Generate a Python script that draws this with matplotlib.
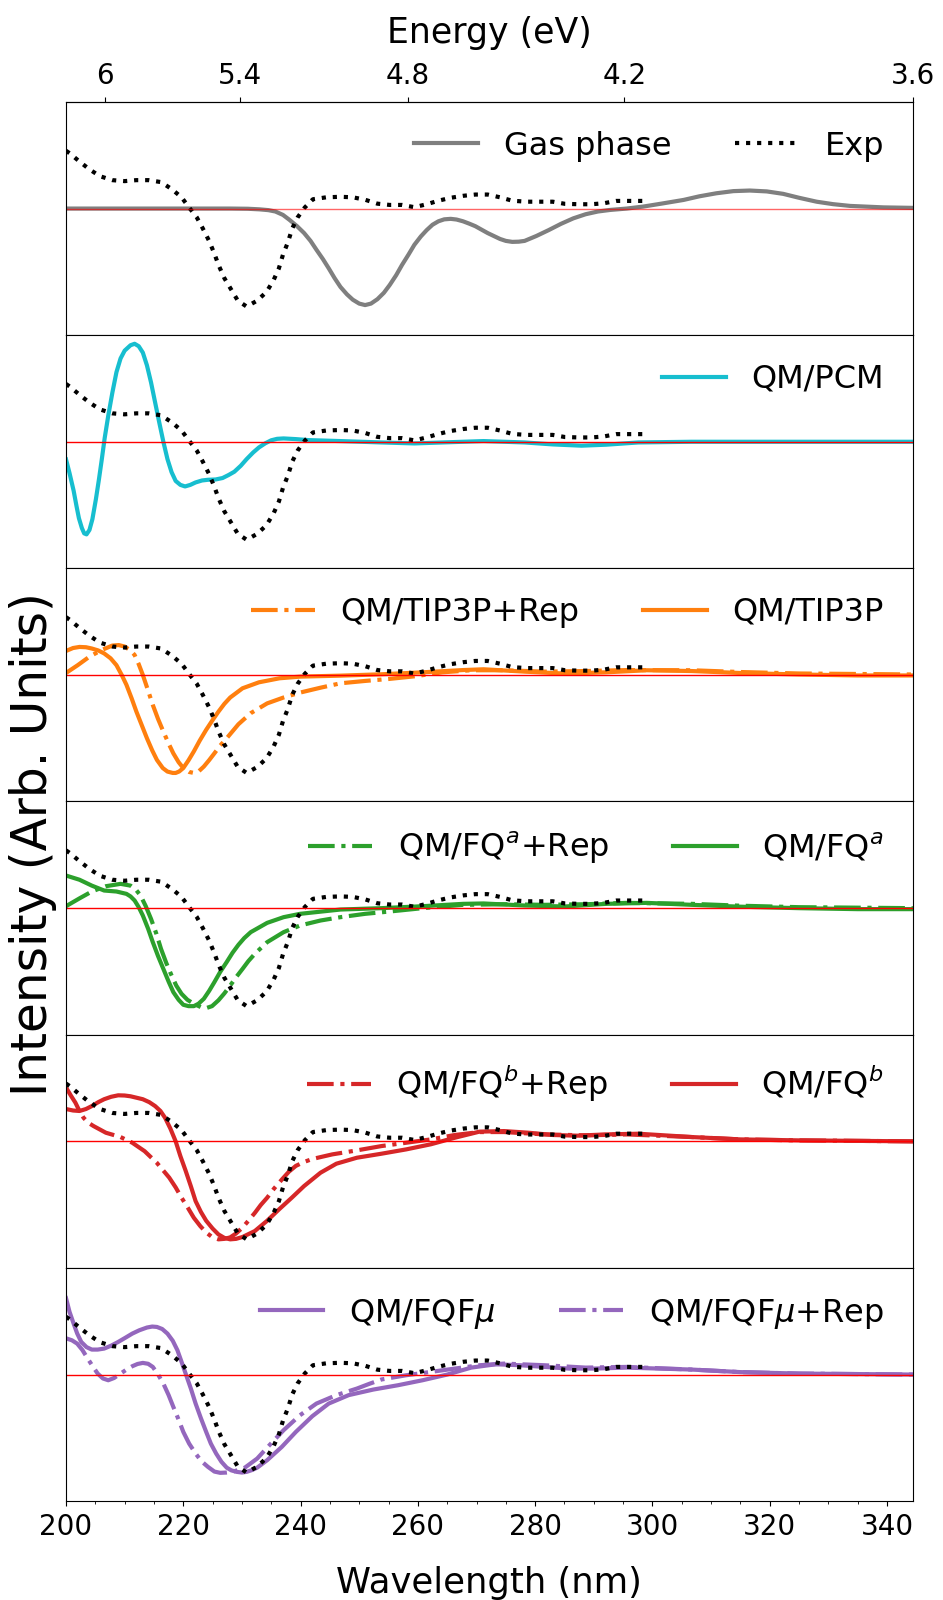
import numpy as np
import matplotlib
matplotlib.use('Agg')
import matplotlib.pyplot as plt
from matplotlib.ticker import MultipleLocator

HC = 1239.84  # eV*nm

# (wavelength nm, normalized intensity)
exp = [(200.0, 0.59), (200.6, 0.565), (202.3, 0.48), (204.0, 0.40), (205.8, 0.33), (207.9, 0.29),
       (210.0, 0.28), (212.0, 0.29), (214.1, 0.29), (216.2, 0.27), (218.0, 0.20), (219.7, 0.115),
       (221.0, 0.01), (222.3, -0.09), (223.3, -0.20), (224.4, -0.33), (225.3, -0.46), (226.0, -0.575),
       (227.0, -0.71), (228.2, -0.83), (229.3, -0.94), (230.8, -1.0), (232.6, -0.94), (234.2, -0.85),
       (235.4, -0.73), (236.3, -0.61), (237.0, -0.47), (237.8, -0.35), (238.6, -0.20), (239.5, -0.09),
       (240.7, 0.01), (242.1, 0.095), (244.4, 0.115), (246.8, 0.12), (248.9, 0.115), (251.0, 0.09),
       (253.1, 0.05), (255.2, 0.037), (257.3, 0.037), (259.4, 0.014), (261.5, 0.044), (263.5, 0.08),
       (265.6, 0.11), (267.7, 0.13), (269.8, 0.143), (271.9, 0.143), (274.0, 0.115), (276.1, 0.08),
       (278.5, 0.07), (281.0, 0.07), (283.0, 0.07), (285.1, 0.048), (287.6, 0.044), (289.6, 0.044),
       (291.7, 0.054), (293.8, 0.078), (296.3, 0.078), (298.8, 0.078)]

gas = [(200.0, 0.0), (210.0, 0.0), (220.0, 0.0), (228.0, 0.0), (231.0, -0.002), (233.0, -0.008),
       (234.5, -0.016), (235.7, -0.03), (237.0, -0.065), (238.1, -0.115), (239.4, -0.18), (240.6, -0.25),
       (241.7, -0.33), (242.7, -0.42), (243.8, -0.515), (244.8, -0.61), (245.8, -0.71), (246.8, -0.80),
       (247.9, -0.875), (248.9, -0.93), (250.0, -0.97), (251.0, -0.985), (252.0, -0.97), (253.1, -0.925),
       (254.2, -0.86), (255.2, -0.78), (256.3, -0.68), (257.3, -0.575), (258.4, -0.47), (259.4, -0.37),
       (260.5, -0.285), (261.5, -0.22), (262.5, -0.165), (263.5, -0.13), (264.5, -0.11), (265.6, -0.105),
       (266.6, -0.112), (267.7, -0.13), (268.8, -0.155), (269.8, -0.18), (271.9, -0.25), (274.0, -0.31),
       (275.0, -0.33), (276.1, -0.34), (277.2, -0.338), (278.2, -0.33), (280.2, -0.28), (282.3, -0.22),
       (284.4, -0.156), (286.5, -0.10), (288.6, -0.058), (290.7, -0.03), (292.8, -0.014), (295.6, 0.0),
       (298.4, 0.02), (301.5, 0.05), (305.3, 0.088), (308.0, 0.125), (310.9, 0.156), (313.8, 0.178),
       (316.6, 0.184), (319.5, 0.175), (322.3, 0.15), (325.0, 0.11), (328.0, 0.07), (330.8, 0.045),
       (333.7, 0.027), (339.4, 0.012), (344.4, 0.007)]

pcm = [(200.0, -0.18), (200.6, -0.32), (201.3, -0.50), (201.8, -0.66), (202.2, -0.78), (202.7, -0.88),
       (203.1, -0.935), (203.5, -0.945), (204.0, -0.90), (204.5, -0.79), (205.1, -0.585), (205.6, -0.39),
       (206.1, -0.18), (206.6, 0.04), (207.2, 0.265), (207.9, 0.50), (208.6, 0.71), (209.3, 0.85),
       (210.0, 0.93), (211.0, 0.985), (211.7, 1.0), (212.4, 0.975), (213.1, 0.91), (213.8, 0.78),
       (214.5, 0.605), (215.2, 0.40), (215.9, 0.197), (216.6, 0.0), (217.3, -0.177), (218.0, -0.31),
       (218.7, -0.40), (219.5, -0.44), (220.3, -0.456), (221.2, -0.44), (222.1, -0.415), (223.2, -0.395),
       (224.2, -0.388), (225.5, -0.385), (226.7, -0.37), (227.7, -0.34), (228.7, -0.306), (229.8, -0.245),
       (230.8, -0.177), (231.9, -0.11), (232.9, -0.058), (234.0, -0.015), (235.0, 0.015), (236.0, 0.03),
       (237.1, 0.034), (239.2, 0.027), (241.3, 0.017), (246.8, 0.007), (253.8, -0.007), (259.4, -0.017),
       (264.2, -0.007), (271.2, 0.007), (278.2, -0.007), (283.0, -0.027), (287.9, -0.04), (292.1, -0.03),
       (297.6, -0.007), (306.7, 0.0), (320.0, 0.0), (344.4, 0.0)]

tip3p = [(200.0, 0.245), (201.2, 0.275), (202.3, 0.286), (203.4, 0.283), (204.4, 0.27), (205.5, 0.25),
         (206.5, 0.22), (207.6, 0.17), (208.6, 0.10), (209.5, 0.0), (210.3, -0.10), (211.2, -0.24),
         (212.0, -0.374), (212.9, -0.51), (213.8, -0.646), (214.7, -0.77), (215.5, -0.867), (216.5, -0.95),
         (217.3, -0.986), (218.2, -1.0), (218.7, -1.0), (219.3, -0.985), (220.0, -0.95), (220.9, -0.87),
         (221.8, -0.78), (222.8, -0.67), (223.9, -0.56), (225.0, -0.46), (226.0, -0.374), (227.0, -0.295),
         (228.0, -0.23), (230.1, -0.136), (232.9, -0.075), (236.4, -0.034), (239.9, -0.017), (246.8, -0.007),
         (253.8, 0.007), (260.8, 0.027), (267.7, 0.05), (271.2, 0.058), (278.2, 0.034), (285.1, 0.014),
         (292.1, 0.027), (299.0, 0.048), (306.7, 0.04), (315.0, 0.02), (325.0, 0.005), (335.0, -0.005),
         (344.4, -0.005)]

tip3p_rep = [(200.0, 0.02), (202.0, 0.10), (204.0, 0.187), (206.1, 0.255), (207.9, 0.30), (209.0, 0.305),
             (210.0, 0.29), (211.0, 0.25), (211.7, 0.204), (212.4, 0.11), (213.1, 0.0), (214.0, -0.16),
             (214.8, -0.306), (215.7, -0.45), (216.6, -0.578), (217.5, -0.70), (218.3, -0.80), (219.2, -0.89),
             (220.0, -0.95), (221.0, -0.99), (221.8, -1.0), (222.6, -0.985), (223.5, -0.935), (224.4, -0.87),
             (225.3, -0.80), (226.3, -0.72), (227.4, -0.646), (229.4, -0.503), (231.5, -0.39), (234.3, -0.29),
             (237.1, -0.23), (239.9, -0.18), (243.4, -0.13), (246.8, -0.085), (251.0, -0.061), (255.2, -0.04),
             (259.4, -0.014), (264.2, 0.027), (269.1, 0.048), (274.7, 0.048), (281.6, 0.034), (288.6, 0.04),
             (295.6, 0.05), (306.7, 0.048), (315.0, 0.03), (325.0, 0.015), (335.0, 0.01), (344.4, 0.005)]

fqa = [(200.0, 0.333), (202.3, 0.29), (204.4, 0.23), (206.5, 0.18), (208.6, 0.17), (210.3, 0.146),
       (211.0, 0.12), (211.7, 0.078), (212.4, 0.01), (213.1, -0.075), (214.0, -0.21), (214.8, -0.347),
       (215.7, -0.49), (216.6, -0.62), (217.5, -0.75), (218.3, -0.857), (219.2, -0.935), (220.0, -0.986),
       (220.9, -1.0), (221.8, -1.0), (222.6, -0.975), (223.5, -0.925), (224.4, -0.845), (225.3, -0.755),
       (226.3, -0.65), (227.4, -0.55), (228.4, -0.455), (229.4, -0.374), (230.4, -0.305), (231.5, -0.245),
       (234.3, -0.15), (237.1, -0.092), (239.9, -0.058), (246.8, -0.014), (253.8, 0.0), (260.8, 0.02),
       (267.7, 0.044), (271.2, 0.048), (278.2, 0.027), (285.1, 0.017), (292.1, 0.044), (299.0, 0.054),
       (306.7, 0.034), (315.0, 0.015), (325.0, 0.0), (335.0, -0.01), (344.4, -0.01)]

fqa_rep = [(200.0, 0.02), (202.3, 0.10), (204.4, 0.17), (206.8, 0.224), (209.3, 0.248), (211.0, 0.23),
           (211.9, 0.19), (212.7, 0.13), (213.6, 0.02), (214.5, -0.11), (215.4, -0.26), (216.2, -0.415),
           (217.1, -0.56), (218.0, -0.687), (218.8, -0.79), (219.7, -0.874), (220.7, -0.935), (221.8, -0.976),
           (223.0, -1.01), (223.9, -1.02), (224.9, -1.0), (226.0, -0.94), (227.0, -0.87), (228.0, -0.79),
           (229.0, -0.705), (230.1, -0.62), (231.1, -0.54), (232.2, -0.466), (234.3, -0.347), (237.1, -0.245),
           (239.9, -0.177), (243.4, -0.126), (246.8, -0.092), (251.0, -0.058), (255.2, -0.034), (260.8, 0.0),
           (267.7, 0.034), (274.7, 0.04), (281.6, 0.034), (288.6, 0.04), (295.6, 0.054), (306.7, 0.044),
           (315.0, 0.025), (325.0, 0.01), (335.0, 0.005), (344.4, 0.0)]

fqb = [(200.0, 0.33), (201.2, 0.315), (202.3, 0.31), (203.4, 0.33), (204.4, 0.36), (205.5, 0.40),
       (206.5, 0.43), (207.7, 0.455), (208.9, 0.47), (210.0, 0.468), (211.0, 0.46), (213.1, 0.43),
       (214.2, 0.40), (215.2, 0.36), (216.1, 0.31), (216.9, 0.24), (217.8, 0.13), (218.7, 0.0),
       (219.5, -0.15), (220.4, -0.30), (221.3, -0.46), (222.1, -0.61), (223.0, -0.72), (223.9, -0.81),
       (225.0, -0.89), (226.0, -0.95), (227.0, -0.985), (228.0, -1.0), (229.0, -0.995), (230.1, -0.976),
       (232.2, -0.915), (234.3, -0.81), (236.4, -0.69), (238.5, -0.575), (240.6, -0.456), (243.4, -0.32),
       (246.1, -0.228), (249.6, -0.167), (253.8, -0.126), (258.0, -0.082), (262.2, -0.03), (266.3, 0.037),
       (270.5, 0.099), (274.7, 0.105), (278.9, 0.088), (283.0, 0.065), (287.2, 0.058), (292.1, 0.071),
       (297.6, 0.078), (306.7, 0.044), (315.0, 0.02), (325.0, 0.01), (335.0, 0.005), (344.4, 0.0)]

fqb_rep = [(200.0, 0.55), (200.8, 0.47), (201.6, 0.395), (202.3, 0.31), (203.0, 0.24), (203.8, 0.19),
           (204.7, 0.156), (206.8, 0.088), (209.3, 0.044), (211.3, -0.014), (213.4, -0.10), (215.5, -0.22),
           (217.6, -0.37), (218.7, -0.47), (219.7, -0.575), (220.8, -0.68), (221.8, -0.78), (222.9, -0.865),
           (223.9, -0.93), (225.0, -0.98), (226.0, -1.0), (227.0, -0.995), (228.0, -0.98), (229.0, -0.94),
           (230.1, -0.88), (231.1, -0.81), (232.2, -0.73), (233.2, -0.65), (234.3, -0.575), (235.5, -0.48),
           (236.8, -0.39), (238.0, -0.31), (239.2, -0.25), (240.6, -0.21), (242.0, -0.18), (245.4, -0.133),
           (249.6, -0.092), (253.8, -0.048), (258.0, -0.014), (262.2, 0.02), (266.3, 0.065), (270.5, 0.095),
           (274.7, 0.095), (281.6, 0.071), (288.6, 0.061), (295.6, 0.071), (306.7, 0.044), (315.0, 0.02),
           (325.0, 0.01), (335.0, 0.005), (344.4, 0.0)]

fqfmu = [(200.0, 0.78), (200.6, 0.64), (201.3, 0.52), (201.9, 0.42), (202.6, 0.333), (203.5, 0.28),
         (204.4, 0.255), (205.4, 0.255), (206.5, 0.265), (207.7, 0.295), (208.9, 0.333), (210.1, 0.375),
         (211.3, 0.418), (212.5, 0.452), (213.8, 0.48), (214.7, 0.49), (215.5, 0.486), (216.4, 0.465),
         (217.3, 0.418), (218.2, 0.345), (219.0, 0.248), (219.7, 0.13), (220.4, 0.01), (221.3, -0.145),
         (222.1, -0.296), (223.0, -0.445), (223.9, -0.585), (224.7, -0.705), (225.6, -0.806), (226.5, -0.89),
         (227.4, -0.95), (228.2, -0.978), (229.1, -0.993), (230.0, -1.0), (230.8, -0.993), (231.7, -0.975),
         (232.6, -0.95), (234.3, -0.874), (236.8, -0.738), (239.2, -0.585), (242.0, -0.425), (244.8, -0.296),
         (248.2, -0.21), (252.4, -0.153), (256.6, -0.109), (260.8, -0.058), (265.0, 0.0), (269.1, 0.071),
         (273.3, 0.105), (277.5, 0.095), (281.6, 0.078), (285.8, 0.061), (290.0, 0.061), (295.6, 0.071),
         (306.7, 0.051), (315.0, 0.025), (325.0, 0.01), (335.0, 0.005), (344.4, 0.0)]

fqfmu_rep = [(200.0, 0.37), (201.0, 0.35), (201.9, 0.316), (202.8, 0.25), (203.7, 0.163), (204.6, 0.08),
             (205.4, 0.01), (206.3, -0.04), (207.2, -0.058), (208.2, -0.035), (209.3, 0.01), (210.3, 0.05),
             (211.3, 0.085), (212.2, 0.108), (213.1, 0.119), (214.0, 0.11), (214.8, 0.078), (215.7, 0.0),
             (216.6, -0.092), (217.5, -0.21), (218.3, -0.33), (219.2, -0.46), (220.0, -0.585), (221.0, -0.705),
             (222.1, -0.806), (223.1, -0.885), (224.2, -0.942), (225.3, -0.99), (226.3, -1.003), (227.4, -1.0),
             (228.4, -0.993), (230.5, -0.95), (232.6, -0.857), (234.7, -0.72), (237.1, -0.568), (239.9, -0.415),
             (242.7, -0.296), (246.1, -0.21), (249.6, -0.143), (251.7, -0.095), (253.8, -0.05), (258.0, -0.007),
             (262.2, 0.027), (266.3, 0.061), (270.5, 0.095), (274.7, 0.112), (281.6, 0.095), (288.6, 0.071),
             (295.6, 0.078), (306.7, 0.051), (315.0, 0.025), (325.0, 0.01), (335.0, 0.005), (344.4, 0.0)]

ev_ticks = [6, 5.4, 4.8, 4.2, 3.6]
ev_labels = ['6', '5.4', '4.8', '4.2', '3.6']

# panels: list of (curve, label, color, linestyle)
panels = [
    [(gas, 'Gas phase', 'tab:gray', '-')],
    [(pcm, 'QM/PCM', 'tab:cyan', '-')],
    [(tip3p_rep, 'QM/TIP3P+Rep', 'tab:orange', '-.'), (tip3p, 'QM/TIP3P', 'tab:orange', '-')],
    [(fqa_rep, 'QM/FQ$^a$+Rep', 'tab:green', '-.'), (fqa, 'QM/FQ$^a$', 'tab:green', '-')],
    [(fqb_rep, 'QM/FQ$^b$+Rep', 'tab:red', '-.'), (fqb, 'QM/FQ$^b$', 'tab:red', '-')],
    [(fqfmu, 'QM/FQF$\\mu$', 'tab:purple', '-'), (fqfmu_rep, 'QM/FQF$\\mu$+Rep', 'tab:purple', '-.')],
]


def nm_ev(x):
    x = np.asarray(x, dtype=float)
    with np.errstate(divide='ignore'):
        return HC / x


fig, axes = plt.subplots(6, 1, sharex=True, figsize=(9.43, 16), dpi=100)
fig.subplots_adjust(left=0.070, right=0.968, top=0.9364, bottom=0.0619, hspace=0)

exp_x, exp_y = np.array(exp).T
for i, ax in enumerate(axes):
    for curve, label, color, ls in panels[i]:
        x, y = np.array(curve).T
        ax.plot(x, y, color=color, ls=ls, lw=3, label=label)
    if i == 0:
        ax.plot(exp_x, exp_y, color='black', ls=':', lw=3, label='Exp')
    else:
        ax.plot(exp_x, exp_y, color='black', ls=':', lw=3)
    ax.axhline(0, color='red', lw=1, alpha=0.6 if i == 0 else 1.0)
    ax.set_ylim(-1.29, 1.09)
    ax.set_yticks([])
    ax.legend(loc='upper right', ncol=2, frameon=False, fontsize=23)
    if i < 5:
        ax.tick_params(axis='x', which='both', bottom=False)

axes[-1].set_xlim(200, HC / 3.6)
axes[-1].xaxis.set_major_locator(MultipleLocator(20))
axes[-1].xaxis.set_minor_locator(MultipleLocator(5))
axes[-1].tick_params(axis='x', labelsize=20, pad=5)
axes[-1].set_xlabel('Wavelength (nm)', fontsize=25.5, labelpad=18)

sec = axes[0].secondary_xaxis('top', functions=(nm_ev, nm_ev))
sec.set_xticks(ev_ticks)
sec.set_xticklabels(ev_labels)
sec.tick_params(labelsize=20, pad=5)
sec.set_xlabel('Energy (eV)', fontsize=25, labelpad=14)

fig.text(0.035, 0.4725, 'Intensity (Arb. Units)', rotation=90, ha='center', va='center', fontsize=35)

fig.savefig('out.png', dpi=100)
